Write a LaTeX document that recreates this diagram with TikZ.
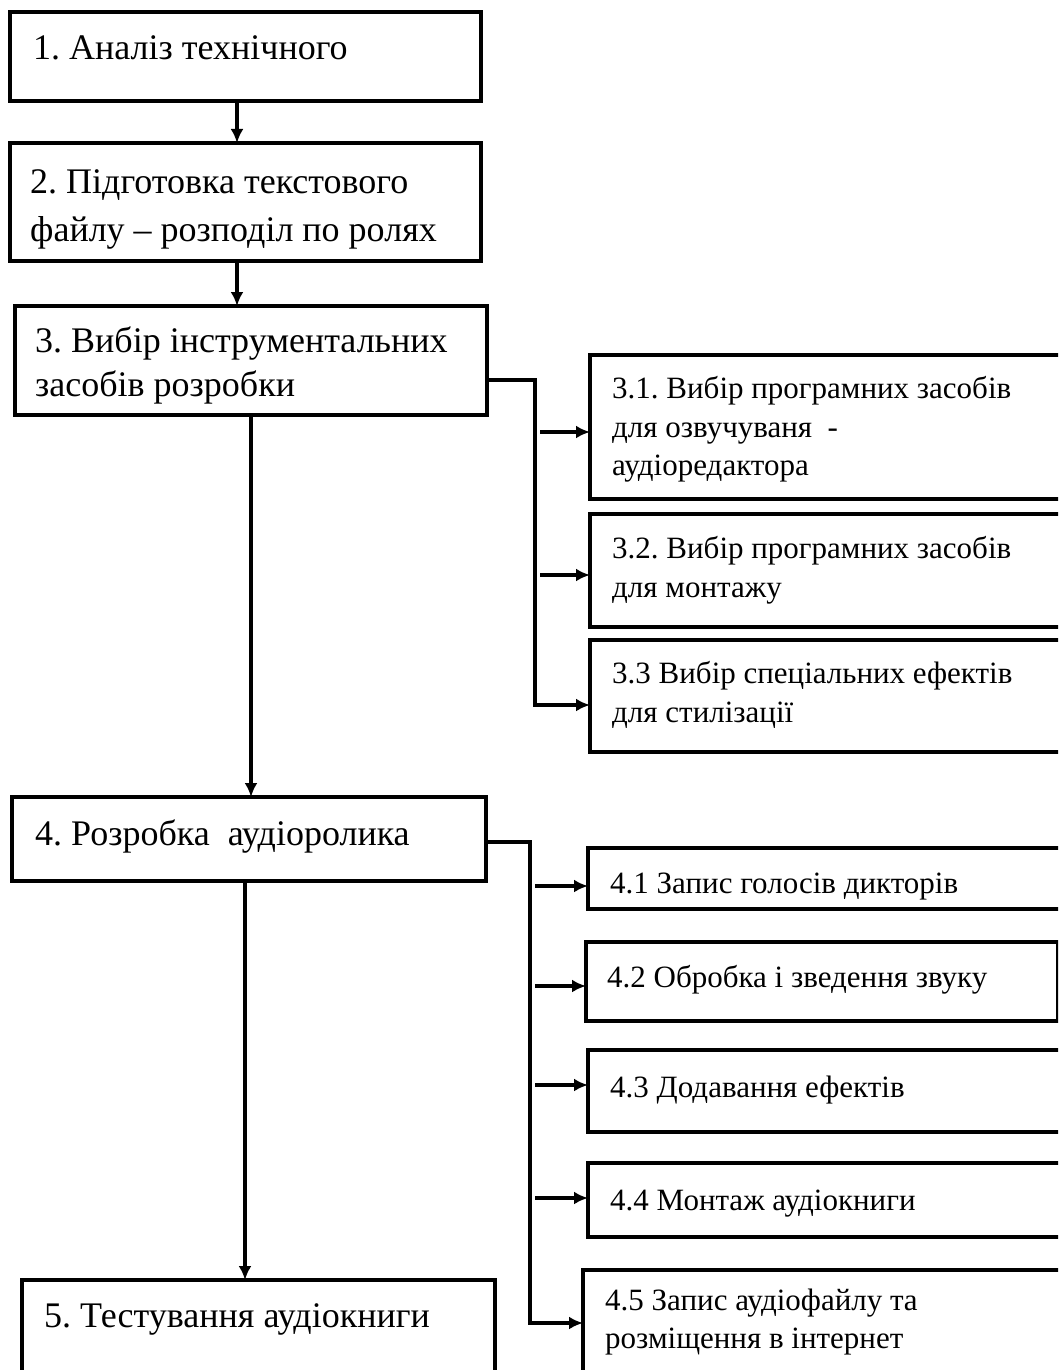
\documentclass[tikz,border=0pt]{standalone}
\usepackage{fontspec}
\setmainfont{Liberation Serif}
\usetikzlibrary{arrows.meta,calc}
\frenchspacing
\begin{document}
\begin{tikzpicture}[x=1pt,y=-1pt,
  box/.style={draw,line width=3.6pt,rectangle,inner sep=0pt,outer sep=0pt,anchor=north west},
  bigtxt/.style={anchor=base west,inner sep=0pt,font=\fontsize{36}{40}\selectfont},
  smalltxt/.style={anchor=base west,inner sep=0pt,font=\fontsize{31}{34}\selectfont},
  conn/.style={line width=3.4pt},
  arr/.style={conn,-{Latex[length=14pt,width=13pt]}}]
\useasboundingbox (0,0) rectangle (1058,1370);
\fill[white] (0,0) rectangle (1058,1370);
\clip (0,0) rectangle (1058,1370);

% main boxes
\node[box,minimum width=471pt,minimum height=89pt] (b1) at (10,12) {};
\node[box,minimum width=471pt,minimum height=118pt] (b2) at (10,143) {};
\node[box,minimum width=472pt,minimum height=109pt] (b3) at (15,306) {};
\node[box,minimum width=474pt,minimum height=84pt] (b4) at (12,797) {};
\node[box,minimum width=473pt,minimum height=120pt] (b5) at (22,1280) {};

% right boxes
\node[box,minimum width=490pt,minimum height=144pt] (b31) at (590,355) {};
\node[box,minimum width=490pt,minimum height=113pt] (b32) at (590,514) {};
\node[box,minimum width=490pt,minimum height=112pt] (b33) at (590,640) {};
\node[box,minimum width=490pt,minimum height=61pt] (b41) at (588,848) {};
\node[box,minimum width=472pt,minimum height=79pt] (b42) at (586,942) {};
\node[box,minimum width=490pt,minimum height=82pt] (b43) at (588,1050) {};
\node[box,minimum width=490pt,minimum height=74pt] (b44) at (588,1163) {};
\node[box,minimum width=495pt,minimum height=120pt] (b45) at (583,1270) {};

% texts
\node[bigtxt] (t1) at (33,60) {1. Аналіз технічного};
\node[bigtxt] (t2a) at (30,193) {2. Підготовка текстового};
\node[bigtxt] (t2b) at (30,241) {файлу – розподіл по ролях};
\node[bigtxt] (t3a) at (35,352) {3. Вибір інструментальних};
\node[bigtxt] (t3b) at (35,396) {засобів розробки};
\node[bigtxt] (t4) at (35,845) {4. Розробка\ \ аудіоролика};
\node[bigtxt] (t5) at (44,1327) {5. Тестування аудіокниги};

\node[smalltxt] (t31a) at (612,398) {3.1. Вибір програмних засобів};
\node[smalltxt] (t31b) at (612,437) {для озвучуваня\ \ -};
\node[smalltxt] (t31c) at (612,475) {аудіоредактора};
\node[smalltxt] (t32a) at (612,558) {3.2. Вибір програмних засобів};
\node[smalltxt] (t32b) at (612,597) {для монтажу};
\node[smalltxt] (t33a) at (612,683) {3.3 Вибір спеціальних ефектів};
\node[smalltxt] (t33b) at (612,722) {для стилізації};
\node[smalltxt] (t41) at (610,893) {4.1 Запис голосів дикторів};
\node[smalltxt] (t42) at (607,987) {4.2 Обробка і зведення звуку};
\node[smalltxt] (t43) at (610,1097) {4.3 Додавання ефектів};
\node[smalltxt] (t44) at (610,1210) {4.4 Монтаж аудіокниги};
\node[smalltxt] (t45a) at (605,1310) {4.5 Запис аудіофайлу та};
\node[smalltxt] (t45b) at (605,1348) {розміщення в інтернет};

% main chain
\coordinate (x12) at (237,0);
\coordinate (x45) at (245,0);
\draw[arr] (b1.south -| x12) -- (b2.north -| x12);
\draw[arr] (b2.south -| x12) -- (b3.north -| x12);
\draw[arr] (b3.south) -- (b4.north -| b3.south);
\draw[arr] (b4.south -| x45) -- (b5.north -| x45);

% branch 3
\coordinate (j3) at (535,380);
\coordinate (j3e) at (535,705);
\draw[arr] (b3.east |- j3) -- (j3) -- (j3e) -- (b33.west |- j3e);
\coordinate (a31) at (540,432);
\coordinate (a32) at (540,575);
\draw[arr] (a31) -- (b31.west |- a31);
\draw[arr] (a32) -- (b32.west |- a32);

% branch 4
\coordinate (j4) at (530,842);
\coordinate (j4e) at (530,1323);
\draw[arr] (b4.east |- j4) -- (j4) -- (j4e) -- (b45.west |- j4e);
\coordinate (a41) at (535,886);
\coordinate (a42) at (535,986);
\coordinate (a43) at (535,1085);
\coordinate (a44) at (535,1198);
\draw[arr] (a41) -- (b41.west |- a41);
\draw[arr] (a42) -- (b42.west |- a42);
\draw[arr] (a43) -- (b43.west |- a43);
\draw[arr] (a44) -- (b44.west |- a44);
\end{tikzpicture}
\end{document}
